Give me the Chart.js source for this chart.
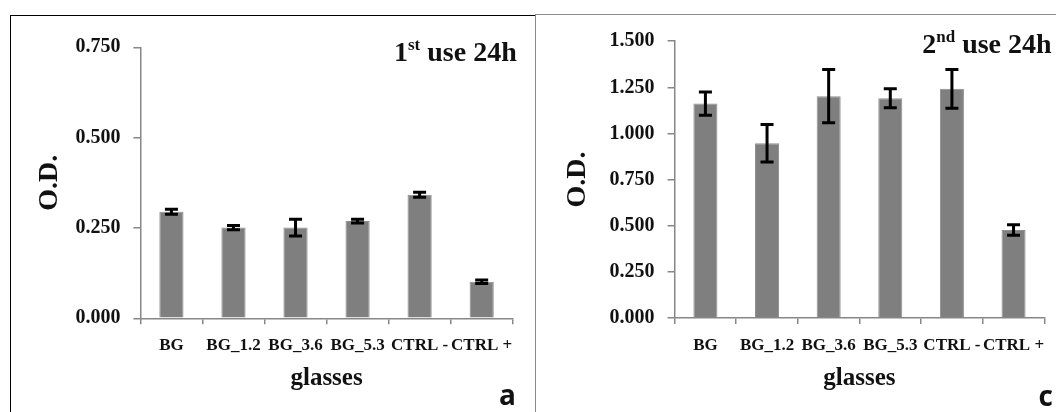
<!DOCTYPE html>
<html>
<head>
<meta charset="utf-8">
<script src="https://cdn.jsdelivr.net/npm/chart.js@4.4.1/dist/chart.umd.min.js"></script>
<style>
  html, body { margin: 0; padding: 0; background: #fff; }
  body { width: 1056px; height: 412px; position: relative; overflow: hidden; }
  canvas { position: absolute; top: 0; }
  #c1 { left: 0; }
  #c2 { left: 535px; }
  .frameA { position: absolute; left: 10px; top: 15px; width: 525px; height: 400px;
            border-left: 1px solid #000; border-top: 1px solid #000; }
  .frameB { position: absolute; left: 535px; top: 14px; width: 530px; height: 400px;
            border-left: 1px solid #8a8a8a; border-top: 1px solid #8a8a8a; }
</style>
</head>
<body>
<div class="frameA"></div>
<div class="frameB"></div>
<canvas id="c1" width="535" height="412"></canvas>
<canvas id="c2" width="521" height="412"></canvas>
<script>
// ---- data ----
const categories = ['BG', 'BG_1.2', 'BG_3.6', 'BG_5.3', 'CTRL -', 'CTRL +'];
const od1st = [0.295, 0.251, 0.251, 0.269, 0.342, 0.101];
const err1st = [0.007, 0.006, 0.023, 0.005, 0.007, 0.005];
const od2nd = [1.162, 0.947, 1.202, 1.191, 1.242, 0.477];
const err2nd = [0.063, 0.101, 0.144, 0.052, 0.105, 0.029];
const yTicks1st = [0, 0.25, 0.5, 0.75];
const yTicks2nd = [0, 0.25, 0.5, 0.75, 1.0, 1.25, 1.5];
const xTitle = 'glasses';
const yTitle = 'O.D.';

const SERIF = '"Liberation Serif", "Times New Roman", serif';

const errorBars = {
  id: 'errorBars',
  afterDatasetsDraw(chart, args, opts) {
    const { ctx, scales: { x, y } } = chart;
    const vals = chart.data.datasets[0].data;
    const errs = opts.errors || [];
    ctx.save();
    ctx.strokeStyle = '#000';
    ctx.lineWidth = 3;
    vals.forEach((v, i) => {
      const px = x.getPixelForValue(i);
      const top = y.getPixelForValue(v + errs[i]);
      const bot = y.getPixelForValue(v - errs[i]);
      ctx.beginPath();
      ctx.moveTo(px, top); ctx.lineTo(px, bot);
      ctx.moveTo(px - 6.5, top); ctx.lineTo(px + 6.5, top);
      ctx.moveTo(px - 6.5, bot); ctx.lineTo(px + 6.5, bot);
      ctx.stroke();
    });
    ctx.restore();
  }
};

const panelText = {
  id: 'panelText',
  afterDraw(chart, args, o) {
    const ctx = chart.ctx;
    ctx.save();
    ctx.fillStyle = '#111';
    ctx.textBaseline = 'alphabetic';
    ctx.textAlign = 'left';
    const big = 'bold 28px ' + SERIF;
    const small = 'bold 17px ' + SERIF;
    ctx.font = big;
    const w1 = ctx.measureText(o.lead).width;
    const w3 = ctx.measureText(o.rest).width;
    ctx.font = small;
    const w2 = ctx.measureText(o.sup).width;
    let x = o.right - (w1 + w2 + w3);
    ctx.font = big; ctx.fillText(o.lead, x, o.baseline); x += w1;
    ctx.font = small; ctx.fillText(o.sup, x, o.baseline - 11); x += w2;
    ctx.font = big; ctx.fillText(o.rest, x, o.baseline);
    ctx.font = 'bold 28px "Open Sans", "Liberation Sans", sans-serif';
    ctx.textAlign = 'right';
    ctx.fillText(o.letter, o.letterRight, o.letterBaseline);
    ctx.restore();
  }
};

function makeChart(id, values, errs, ticks, geo, txt) {
  const yMax = ticks[ticks.length - 1];
  return new Chart(document.getElementById(id), {
    type: 'bar',
    data: {
      labels: categories,
      datasets: [{
        data: values,
        backgroundColor: '#7f7f7f',
        borderColor: '#8e8e8e',
        borderWidth: 1,
        categoryPercentage: 1.0,
        barPercentage: 0.39
      }]
    },
    plugins: [errorBars, panelText],
    options: {
      responsive: false,
      animation: false,
      devicePixelRatio: 1,
      layout: { padding: { left: 0, right: geo.padRight, top: geo.top, bottom: 0 } },
      plugins: {
        legend: { display: false },
        tooltip: { enabled: false },
        errorBars: { errors: errs },
        panelText: txt
      },
      scales: {
        x: {
          grid: { display: true, drawOnChartArea: false, drawTicks: true, tickLength: 6,
                  color: '#878787', lineWidth: 1.5, offset: true },
          border: { display: true, color: '#878787', width: 1.5 },
          ticks: { autoSkip: false, maxRotation: 0, minRotation: 0, padding: 11, color: '#111',
                   font: { family: SERIF, size: 17, weight: 'bold' } },
          title: { display: true, text: xTitle, color: '#111', padding: { top: 0, bottom: 18 },
                   font: { family: SERIF, size: 25, weight: 'bold' } },
          afterFit(s) { s.height = 412 - geo.bottom; }
        },
        y: {
          min: 0, max: yMax,
          afterBuildTicks(s) { s.ticks = ticks.map(v => ({ value: v })); },
          grid: { display: true, drawOnChartArea: false, drawTicks: true, tickLength: 7,
                  color: '#878787', lineWidth: 1.5 },
          border: { display: true, color: '#878787', width: 1.5 },
          ticks: { padding: 13, color: '#111', font: { family: SERIF, size: 20, weight: 'bold' },
                   callback: v => Number(v).toFixed(3) },
          title: { display: true, text: yTitle, color: '#111', padding: { top: geo.yTitlePad, bottom: 0 },
                   font: { family: SERIF, size: 28, weight: 'bold' } },
          afterFit(s) { s.width = geo.left; }
        }
      }
    }
  });
}

makeChart('c1', od1st, err1st, yTicks1st,
  { left: 140.4, padRight: 535 - 512.7, top: 47.3, bottom: 318.3, yTitlePad: 33.2 },
  { lead: '1', sup: 'st', rest: ' use 24h', right: 516.7, baseline: 61,
    letter: 'a', letterRight: 516, letterBaseline: 405 });

makeChart('c2', od2nd, err2nd, yTicks2nd,
  { left: 139.6, padRight: 521 - 510.6, top: 41.2, bottom: 318, yTitlePad: 26.2 },
  { lead: '2', sup: 'nd', rest: ' use 24h', right: 516.6, baseline: 53,
    letter: 'c', letterRight: 518, letterBaseline: 406 });
</script>
</body>
</html>
